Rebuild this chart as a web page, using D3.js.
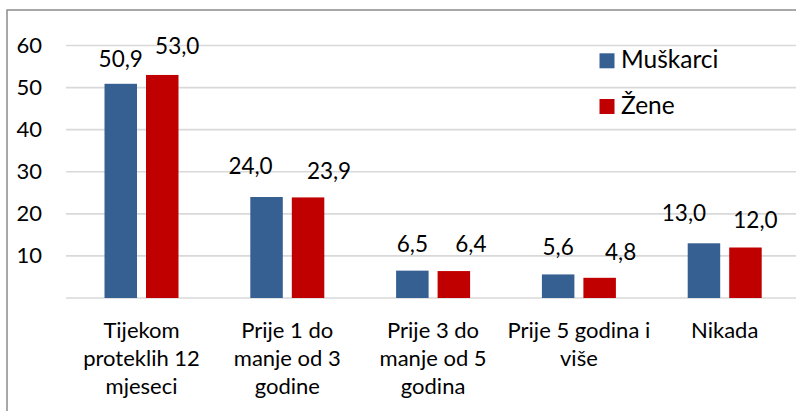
<!DOCTYPE html>
<html>
<head>
<meta charset="utf-8">
<script src="https://cdn.jsdelivr.net/npm/d3@7"></script>
<style>
  html, body { margin: 0; padding: 0; background: #fff; }
  svg { display: block; }
  text { font-family: Lato, "Open Sans", sans-serif; fill: #000; }
</style>
</head>
<body>
<svg id="chart" width="796" height="411"></svg>
<script>
// ---- data ----
const categories = [
  "Tijekom\nproteklih 12\nmjeseci",
  "Prije 1 do\nmanje od 3\ngodine",
  "Prije 3 do\nmanje od 5\ngodina",
  "Prije 5 godina i\nviše",
  "Nikada"
];
const seriesNames = ["Muškarci", "Žene"];
const muskarci = [50.9, 24.0, 6.5, 5.6, 13.0];
const zene = [53.0, 23.9, 6.4, 4.8, 12.0];
const yTicks = [10, 20, 30, 40, 50, 60];
const gridTicks = [0, 10, 20, 30, 40, 50, 60];

// manual label nudges (as placed in the original): [dx, gap above bar top]
const labelNudgeM = [[0, 17], [-16, 23], [0, 19], [0, 19], [-20, 22]];
const labelNudgeZ = [[15, 21], [21, 18], [17, 19], [21, 18], [10, 20]];

const colors = ["#376092", "#C00000"];

// ---- layout ----
const svg = d3.select("#chart");
const plotLeft = 68.6, plotRight = 797.6, plotTop = 45.5, plotBottom = 298;

const pInner = 1 - 74 / 145.8;
const x0 = d3.scaleBand().domain(categories).range([plotLeft, plotRight])
  .paddingInner(pInner).paddingOuter(pInner / 2);
const x1 = d3.scaleBand().domain(seriesNames).range([0, x0.bandwidth()])
  .paddingInner(9 / 41.5).paddingOuter(0);
const y = d3.scaleLinear().domain([0, 60]).range([plotBottom, plotTop]);

const fmt = v => d3.format(".1f")(v).replace(".", ",");

// outer border
svg.append("rect")
  .attr("x", 7).attr("y", 10).attr("width", 820).attr("height", 440)
  .attr("fill", "none").attr("stroke", "#8c8c8c").attr("stroke-width", 1.5);

// gridlines
svg.append("g").selectAll("line").data(gridTicks).join("line")
  .attr("x1", 66).attr("x2", 796)
  .attr("y1", d => y(d)).attr("y2", d => y(d))
  .attr("stroke", "#d9d9d9").attr("stroke-width", 1.6);

// y tick labels
svg.append("g").selectAll("text").data(yTicks).join("text")
  .attr("x", 42).attr("y", d => y(d) + 7.5)
  .attr("text-anchor", "end")
  .attr("font-size", 22)
  .text(d => d);

// bars
const series = [muskarci, zene];
const nudges = [labelNudgeM, labelNudgeZ];
series.forEach((vals, si) => {
  const g = svg.append("g");
  g.selectAll("rect").data(vals).join("rect")
    .attr("x", (d, i) => x0(categories[i]) + x1(seriesNames[si]))
    .attr("y", d => y(d))
    .attr("width", x1.bandwidth())
    .attr("height", d => y(0) - y(d))
    .attr("fill", colors[si]);
  g.selectAll("text").data(vals).join("text")
    .attr("x", (d, i) => x0(categories[i]) + x1(seriesNames[si]) + x1.bandwidth() / 2 + nudges[si][i][0])
    .attr("y", (d, i) => y(d) - nudges[si][i][1])
    .attr("text-anchor", "middle")
    .attr("font-size", 22.5)
    .text(d => fmt(d));
});

// x category labels
const xl = svg.append("g");
categories.forEach(c => {
  const cx = x0(c) + x0.bandwidth() / 2;
  const t = xl.append("text")
    .attr("x", cx)
    .attr("y", 337.5)
    .attr("text-anchor", "middle")
    .attr("font-size", 22);
  c.split("\n").forEach((line, li) => {
    t.append("tspan").attr("x", cx)
      .attr("dy", li === 0 ? 0 : 28).text(line);
  });
});

// legend
const lg = svg.append("g");
seriesNames.forEach((s, i) => {
  const yy = 53.3 + i * 45.7;
  lg.append("rect").attr("x", 599.5).attr("y", yy).attr("width", 15).attr("height", 15)
    .attr("fill", colors[i]);
  lg.append("text").attr("x", 621).attr("y", yy + 15)
    .attr("font-size", 24.5)
    .text(s);
});
</script>
</body>
</html>
